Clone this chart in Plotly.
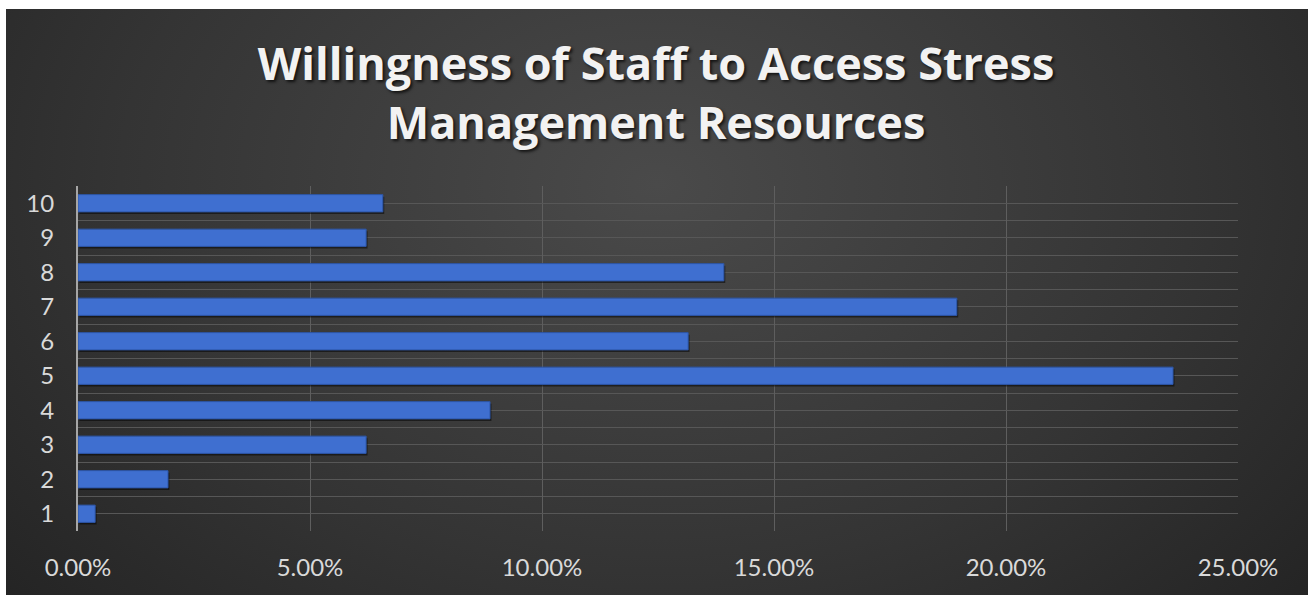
import base64
import plotly.graph_objects as go

# Survey results: share of staff by willingness rating (1 = least, 10 = most)
ratings = [1, 2, 3, 4, 5, 6, 7, 8, 9, 10]
shares = [0.37, 1.94, 6.21, 8.88, 23.6, 13.15, 18.94, 13.92, 6.21, 6.57]
x_ticks = [0, 5, 10, 15, 20, 25]
x_tick_labels = ["0.00%", "5.00%", "10.00%", "15.00%", "20.00%", "25.00%"]
title_lines = ["Willingness of Staff to Access Stress", "Management Resources"]

W, H = 1312, 595
L, R, T, B = 78, 74, 186, 64
plot_w = W - L - R
plot_h = H - T - B

# dark backdrop with a soft radial light in the upper middle
svg = f"""<svg xmlns='http://www.w3.org/2000/svg' width='1300' height='586' viewBox='0 0 1300 586'>
<defs><radialGradient id='g' cx='0.5' cy='0.3' r='0.75' gradientTransform='translate(0.5 0.3) scale(1 1.6) translate(-0.5 -0.3)'>
<stop offset='0' stop-color='#4a4a4a'/><stop offset='0.55' stop-color='#343434'/><stop offset='1' stop-color='#1f1f1f'/>
</radialGradient></defs>
<rect width='1300' height='586' fill='url(#g)'/></svg>"""
bg_src = "data:image/svg+xml;base64," + base64.b64encode(svg.encode()).decode()


def px_to_paper_x(px):
    return (px - L) / plot_w


def px_to_paper_y(py):
    return (H - B - py) / plot_h


fig = go.Figure()

# faint drop shadow just below each bar
fig.add_trace(go.Bar(
    y=ratings, x=shares, orientation="h", width=0.5, base=0.03,
    marker=dict(color="rgba(0,0,0,0.5)", line=dict(width=0)),
    offset=-0.31, hoverinfo="skip", showlegend=False,
))
fig.add_trace(go.Bar(
    y=ratings, x=shares, orientation="h", width=0.5, offset=-0.25,
    marker=dict(color="#3f6fd0", line=dict(color="#2d56a8", width=1)),
    showlegend=False,
))

grid = "#575757"
fig.update_layout(
    width=W, height=H,
    margin=dict(l=L, r=R, t=T, b=B, pad=0),
    paper_bgcolor="white",
    plot_bgcolor="rgba(0,0,0,0)",
    barmode="overlay",
    font=dict(family="Lato", size=24, color="#d9d9d9"),
    title=dict(
        text="<br>".join(title_lines),
        x=0.5, xanchor="center", xref="container",
        y=1 - 80 / H, yanchor="middle", yref="container",
        font=dict(family="Open Sans", size=45, color="#f2f2f2", weight="bold",
                  shadow="2px 2px 3px rgba(0,0,0,0.7)"),
    ),
    xaxis=dict(
        range=[0, 25], tickvals=x_ticks, ticktext=x_tick_labels,
        showgrid=True, gridcolor="#5e5e5e", gridwidth=1,
        zeroline=False, showline=False, ticks="",
        tickfont=dict(size=24, color="#d9d9d9"), ticklabelstandoff=20,
        fixedrange=True,
    ),
    yaxis=dict(
        range=[0.5, 10.5], tickvals=ratings, ticktext=[str(r) for r in ratings],
        showgrid=True, gridcolor=grid, gridwidth=1,
        minor=dict(tick0=0.5, dtick=1, showgrid=True, gridcolor=grid, gridwidth=1),
        zeroline=False, showline=True, linecolor="#a6a6a6", linewidth=2,
        ticks="", tickfont=dict(size=24, color="#d9d9d9"), ticklabelstandoff=17,
        fixedrange=True,
    ),
    images=[dict(
        source=bg_src, xref="paper", yref="paper",
        x=px_to_paper_x(6), y=px_to_paper_y(9),
        sizex=px_to_paper_x(1308) - px_to_paper_x(6),
        sizey=px_to_paper_y(9) - px_to_paper_y(595),
        xanchor="left", yanchor="top", sizing="stretch", layer="below",
    )],
)

fig.write_html("out.html")
